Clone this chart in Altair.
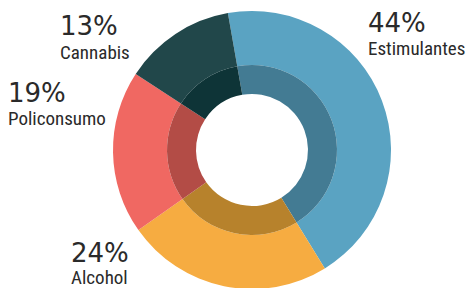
import altair as alt
import pandas as pd

# ---- data ----
categories = ["Estimulantes", "Alcohol", "Policonsumo", "Cannabis"]
values = [44, 24, 19, 13]
slice_order = [1, 2, 3, 4]

# ---- styles ----
outer_colors = ["#5aa3c2", "#f6ac41", "#f06862", "#21474a"]
inner_colors = ["#437b93", "#b7822c", "#b34c46", "#0e3437"]
text_color = "#2a2a2a"

df = pd.DataFrame({
    "category": categories,
    "value": values,
    "order": slice_order,
})
df["pct"] = df["value"].astype(str) + "%"

# ---- layout ----
W, H = 459, 280
CX, CY = 244, 142
R_HOLE, R_MID, R_OUT = 56, 85, 139
start = -10 * 3.14159265 / 180
end = start + 2 * 3.14159265

label_pos = {
    "Estimulantes": (360, 24, 47),
    "Cannabis": (52, 27, 51),
    "Policonsumo": (0, 94, 117),
    "Alcohol": (63, 254, 276),
}

base = alt.Chart(df)
theta = alt.Theta("value:Q", stack=True, scale=alt.Scale(range=[start, end]))

outer = base.mark_arc(radius=R_OUT, radius2=R_MID).encode(
    theta=theta,
    order=alt.Order("order:Q"),
    color=alt.Color("category:N", scale=alt.Scale(domain=categories, range=outer_colors), legend=None),
    x=alt.value(CX), y=alt.value(CY),
)
inner = base.mark_arc(radius=R_MID, radius2=R_HOLE).encode(
    theta=theta,
    order=alt.Order("order:Q"),
    color=alt.Color("category:N", scale=alt.Scale(domain=categories, range=inner_colors), legend=None),
    x=alt.value(CX), y=alt.value(CY),
)

layers = [outer, inner]
for cat, (lx, py, ny) in label_pos.items():
    sel = base.transform_filter(alt.datum.category == cat)
    layers.append(sel.mark_text(
        align="left", baseline="alphabetic", font="DejaVu Sans", fontSize=26, color=text_color
    ).encode(text="pct:N", x=alt.value(lx), y=alt.value(py)))
    layers.append(sel.mark_text(
        align="left", baseline="alphabetic", font="Roboto Condensed",
        fontSize=19, color=text_color
    ).encode(text="category:N", x=alt.value(lx), y=alt.value(ny)))

chart = alt.layer(*layers).resolve_scale(color="independent").properties(
    width=W, height=H, padding=0, autosize=alt.AutoSizeParams(type="none")
).configure_view(stroke=None)

chart.save("out.html", embed_options={"renderer": "svg", "actions": False})
